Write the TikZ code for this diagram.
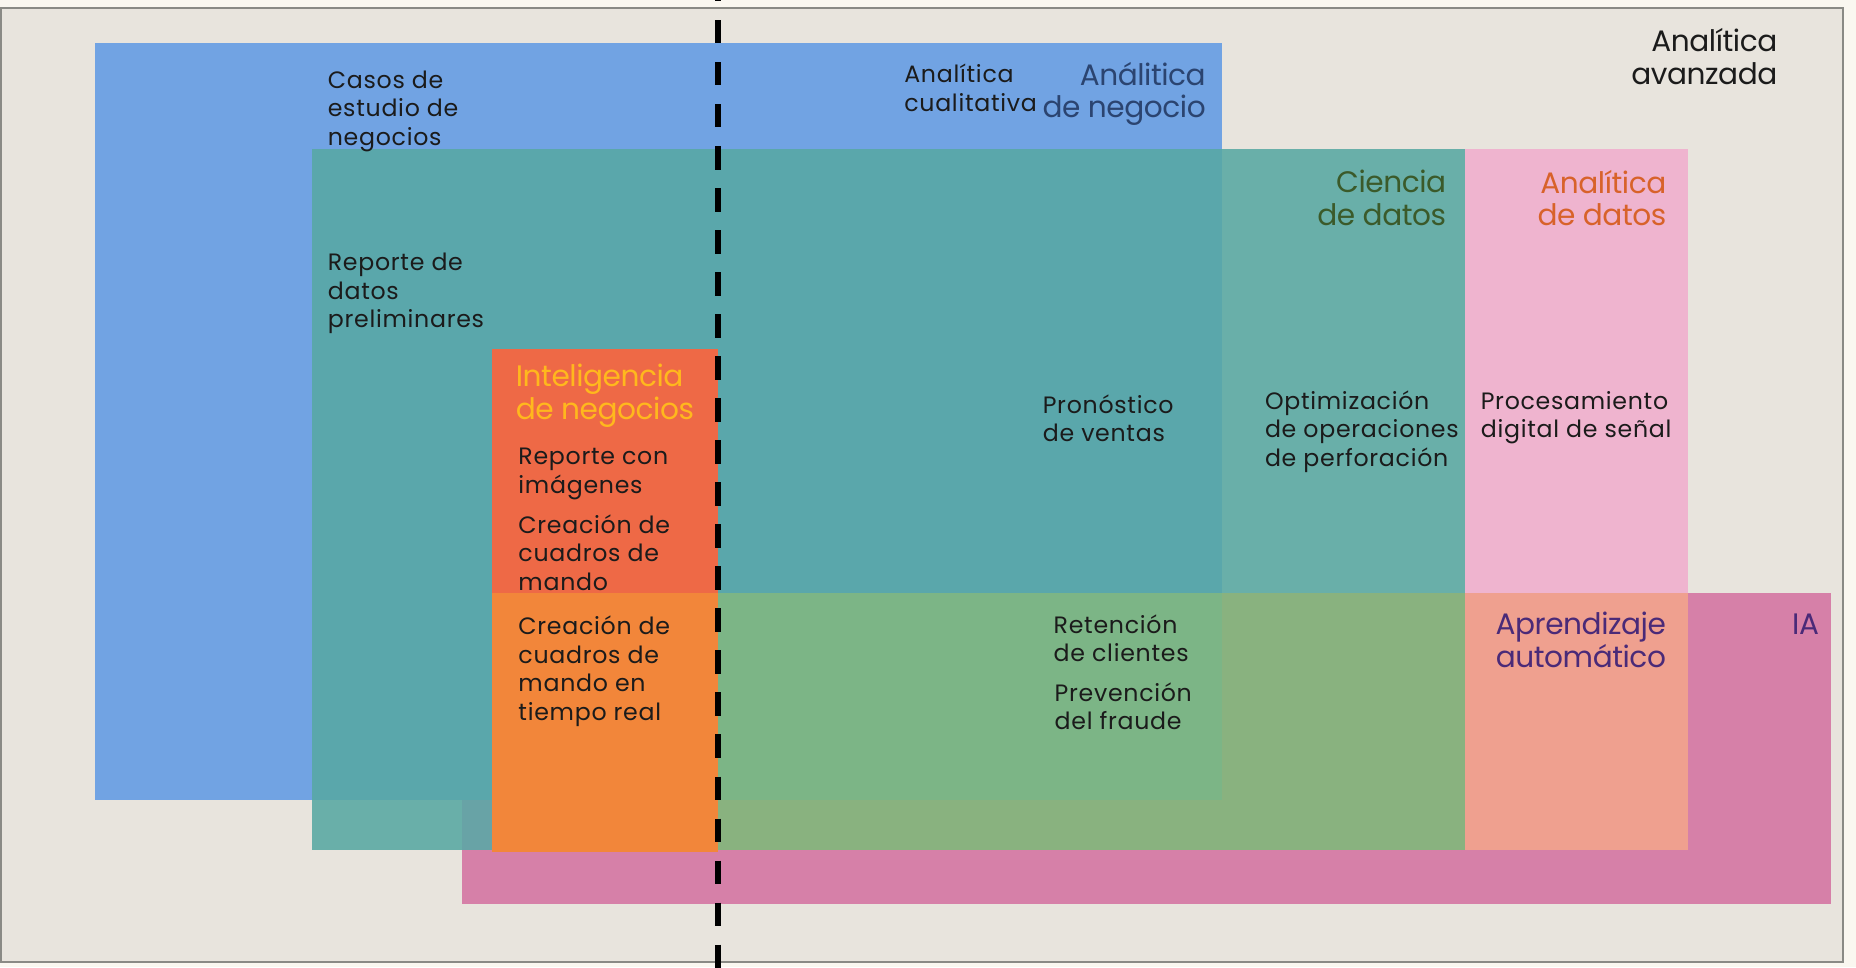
\documentclass[tikz,border=0pt]{standalone}
\usepackage{fontspec}
\setmainfont{Poppins}
\newfontfamily\bodyfont{Poppins}[LetterSpace=3]
\newfontfamily\titlefont{Poppins}[LetterSpace=-1.5]
\definecolor{strip}{HTML}{FAF7F0}
\definecolor{beige}{HTML}{E8E4DD}
\definecolor{framec}{HTML}{8A8A85}
\definecolor{blueA}{HTML}{71A3E3}
\definecolor{tealA}{HTML}{69AFA9}
\definecolor{tealB}{HTML}{5AA7AB}
\definecolor{tealC}{HTML}{68A3A6}
\definecolor{pinkA}{HTML}{EFB4CF}
\definecolor{magA}{HTML}{D680A8}
\definecolor{salmA}{HTML}{EFA08F}
\definecolor{greenL}{HTML}{7CB586}
\definecolor{greenR}{HTML}{89B27F}
\definecolor{orTop}{HTML}{EE6946}
\definecolor{orBot}{HTML}{F2863A}
\definecolor{txtDark}{HTML}{1B1B1B}
\definecolor{txtNavy}{HTML}{2B4470}
\definecolor{txtGreen}{HTML}{3B5A2A}
\definecolor{txtOrange}{HTML}{D8622A}
\definecolor{txtYellow}{HTML}{FFB81D}
\definecolor{txtPurple}{HTML}{4A2A78}
\newcommand{\fstrut}{\rule{0pt}{0.9em}}
\tikzset{
  body/.style={inner sep=0pt, outer sep=0pt, text=txtDark, align=left, anchor=north west,
    font=\bodyfont\fontsize{20}{24}\selectfont},
  titleL/.style={inner sep=0pt, outer sep=0pt, align=left, anchor=north west,
    font=\titlefont\fontsize{25}{27.5}\selectfont},
  titleR/.style={titleL, align=right, anchor=north east},
}
\begin{document}
\begin{tikzpicture}[x=1pt,y=-1pt]
\useasboundingbox (0,0) rectangle (1568,817);
% background
\fill[strip] (0,0) rectangle (1568,817);
\fill[beige] (1,7) rectangle (1557,813);
\draw[framec, line width=1.5pt] (1,7) rectangle (1557,813);
% Analitica de negocio (blue)
\fill[blueA] (80,36) rectangle (1032,676);
% Ciencia de datos (teal)
\fill[tealA] (264,126) rectangle (1238,718);
\fill[tealB] (264,126) rectangle (1032,676);
% Analitica de datos (pink)
\fill[pinkA] (1238,126) rectangle (1426,718);
% IA (magenta)
\fill[magA] (390,501) rectangle (1547,764);
% overlaps
\fill[greenR] (607,501) rectangle (1238,718);
\fill[greenL] (607,501) rectangle (1032,676);
\fill[salmA] (1238,501) rectangle (1426,718);
\fill[tealC] (390,676) rectangle (416,718);
\fill[tealB] (390,501) rectangle (416,676);
% Inteligencia de negocios (orange)
\fill[orTop] (416,295) rectangle (607,501);
\fill[orBot] (416,501) rectangle (607,720);
% dashed divider
\coordinate (dtop) at (606.5,-18.5);
\coordinate (dbot) at (606.5,830);
\draw[black, line width=5pt, dash pattern=on 19.7pt off 15.8pt] (dtop) -- (dbot);
% titles
\node[titleR, text=txtDark] (avanzada) at (1501.5,21.1) {\fstrut Analítica\\avanzada};
\node[titleR, text=txtNavy] (negocio) at (1018.6,49.5) {\fstrut Análitica\\de negocio};
\node[titleR, text=txtGreen] (ciencia) at (1221.7,140.2) {\fstrut Ciencia\\de datos};
\node[titleR, text=txtOrange] (analdatos) at (1407.7,140.8) {\fstrut Analítica\\de datos};
\node[titleL, text=txtYellow] (inteligencia) at (435.8,304.1) {\fstrut Inteligencia\\de negocios};
\node[titleR, text=txtPurple] (aprendizaje) at (1407.4,513.8) {\fstrut Aprendizaje\\automático};
\node[titleR, text=txtPurple] (ia) at (1536.7,513.8) {\fstrut IA};
% body texts
\node[body] (casos) at (277,56.6) {\fstrut Casos de\\estudio de\\negocios};
\node[body] (reporteDatos) at (277,210.6) {\fstrut Reporte de\\datos\\preliminares};
\node[body] (cualitativa) at (764,51.8) {\fstrut Analítica\\cualitativa};
\node[body] (reporteImg) at (438,374.7) {\fstrut Reporte con\\imágenes};
\node[body] (cuadros) at (438,432.5) {\fstrut Creación de\\cuadros de\\mando};
\node[body] (tiempoReal) at (438,518.3) {\fstrut Creación de\\cuadros de\\mando en\\tiempo real};
\node[body] (pronostico) at (881,331) {\fstrut Pronóstico\\de ventas};
\node[body] (optimizacion) at (1068.7,327.7) {\fstrut Optimización\\de operaciones\\de perforación};
\node[body] (procesamiento) at (1251,327.7) {\fstrut Procesamiento\\digital de señal};
\node[body] (retencion) at (890.2,516.9) {\fstrut Retención\\de clientes};
\node[body] (prevencion) at (891,574.6) {\fstrut Prevención\\del fraude};
\end{tikzpicture}
\end{document}
